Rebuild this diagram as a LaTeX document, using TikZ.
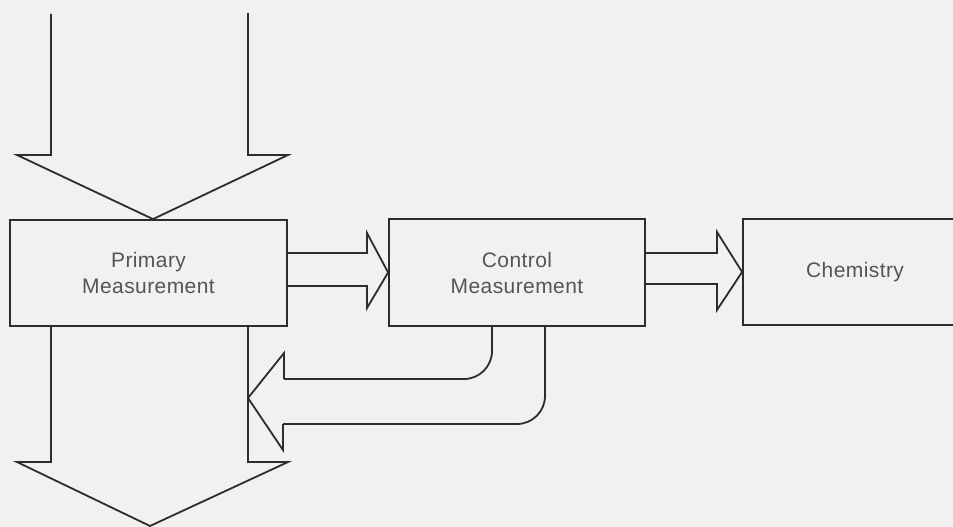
\documentclass[tikz,border=0pt]{standalone}
\usepackage{fontspec}
\setmainfont{Liberation Sans}[LetterSpace=2.0]
\usetikzlibrary{calc}
\definecolor{bg}{RGB}{241,241,239}
\definecolor{ink}{RGB}{45,45,45}
\definecolor{txt}{RGB}{85,85,85}
\tikzset{
  blockbox/.style={draw=ink, line width=1.8pt, rectangle, inner sep=0pt, align=center,
    text=txt, font=\fontsize{21}{26}\selectfont},
  fatline/.style={draw=ink, line width=1.8pt, line join=miter},
}
\begin{document}
\begin{tikzpicture}[x=1pt,y=-1pt]
\fill[bg] (0,0) rectangle (953,527);
\clip (0,0) rectangle (953,527);
% boxes
\node[blockbox, minimum width=277pt, minimum height=106pt] (prim) at (148.5,273) {Primary\\Measurement};
\node[blockbox, minimum width=256pt, minimum height=107pt] (ctrl) at (517,272.5) {Control\\Measurement};
\node[blockbox, minimum width=224pt, minimum height=106pt] (chem) at (855,272) {Chemistry};
% input arrow (top)
\coordinate (inL) at (51,14);
\coordinate (inR) at (248,13);
\draw[fatline] (inL) -- (51,155) -- (17,155) -- (prim.north -| 153,0) -- (288,155) -- (248,155) -- (inR);
% prim -> ctrl
\draw[fatline] (prim.east |- 0,253) -- (367,253) -- (367,233) -- (ctrl.west) -- (367,308) -- (367,286) -- (prim.east |- 0,286);
% ctrl -> chem
\draw[fatline] (ctrl.east |- 0,253) -- (717,253) -- (717,232) -- (chem.west) -- (717,310) -- (717,284) -- (ctrl.east |- 0,284);
% feedback arrow
\coordinate (fbtip) at (248,398);
\draw[fatline, rounded corners=28pt] (ctrl.south -| 492,0) -- (492,379) -- (284,379);
\draw[fatline] (284,379) -- (284,353) -- (fbtip) -- (283,450) -- (283,424);
\draw[fatline, rounded corners=28pt] (283,424) -- (545,424) -- (ctrl.south -| 545,0);
% output arrow (bottom)
\coordinate (outTip) at (150,526);
\draw[fatline] (prim.south -| 51,0) -- (51,462) -- (17,462) -- (outTip) -- (288,462) -- (248,462) -- (prim.south -| 248,0);
\end{tikzpicture}
\end{document}
